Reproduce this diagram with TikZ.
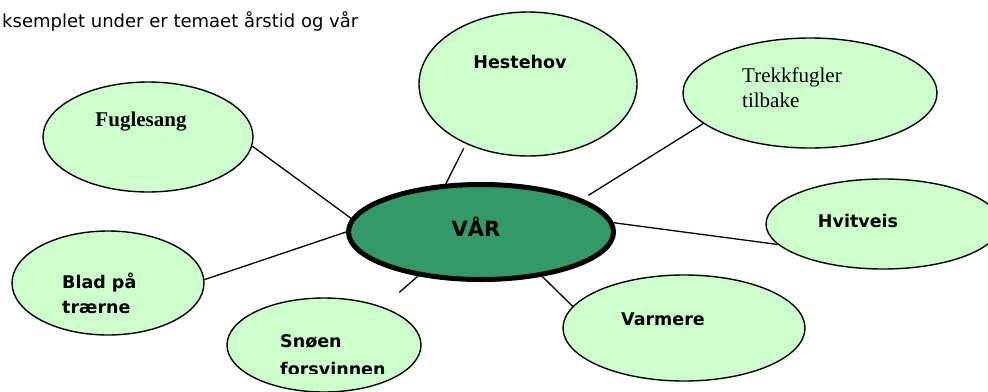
\documentclass[tikz,border=0pt]{standalone}
\usepackage{fontspec}
\setmainfont{Liberation Serif}
\newfontfamily\comicfont{DejaVu Sans}
\usetikzlibrary{shapes.geometric}
\definecolor{leaf}{HTML}{CCFFCC}
\definecolor{core}{HTML}{339966}
\tikzset{
  bubble/.style={ellipse, draw=black, line width=1.4pt, fill=leaf, inner sep=0pt},
  hub/.style={ellipse, draw=black, line width=5pt, fill=core, inner sep=0pt},
  link/.style={draw=black, line width=1.3pt},
  cs/.style={font=\comicfont\bfseries\fontsize{17.5}{23}\selectfont, inner sep=0pt, align=left},
  tn/.style={font=\fontsize{21}{25}\selectfont, inner sep=0pt, align=left},
  tnb/.style={font=\bfseries\fontsize{21}{25}\selectfont, inner sep=0pt},
}
\begin{document}
\begin{tikzpicture}[x=1pt,y=-1pt]
\useasboundingbox (0,0) rectangle (988,391);
\clip (0,0) rectangle (988,391);
% intro text
\node[anchor=base west, inner sep=0pt, font=\comicfont\fontsize{18}{22}\selectfont] (intro) at (2,27) {ksemplet under er temaet årstid og vår};
% bubbles
\node[bubble, minimum width=210pt, minimum height=110pt] (fug) at (148,137) {};
\node[bubble, minimum width=218pt, minimum height=144pt] (hes) at (528,84) {};
\node[bubble, minimum width=254pt, minimum height=110pt] (tre) at (810,93) {};
\node[bubble, minimum width=234pt, minimum height=90pt] (hvi) at (883,224) {};
\node[bubble, minimum width=192pt, minimum height=104pt] (bla) at (108,283) {};
\node[bubble, minimum width=194pt, minimum height=94pt] (sno) at (324,345) {};
\node[bubble, minimum width=242pt, minimum height=106pt] (var) at (684,328) {};
\node[hub, minimum width=265pt, minimum height=95pt] (hub) at (481,232) {};
% labels
\node[cs, font=\comicfont\bfseries\fontsize{21}{25}\selectfont] (tvar) at (476,227) {VÅR};
\node[cs] (thes) at (520,62) {Hestehov};
\node[tn, anchor=north west] (ttre) at (742,68) {Trekkfugler\\tilbake};
\node[tnb] (tfug) at (141,122) {Fuglesang};
\node[cs] (thvi) at (858,221) {Hvitveis};
\node[cs] (tvar2) at (663,319) {Varmere};
\node[cs, anchor=north west, font=\comicfont\bfseries\fontsize{17.5}{25}\selectfont] (tbla) at (62,273) {Blad på\\trærne};
\begin{scope}
  \clip (240,300) rectangle (420,373);
  \node[cs, anchor=north west, font=\comicfont\bfseries\fontsize{17.5}{28}\selectfont] (tsno) at (280,334) {Snøen\\forsvinnen};
\end{scope}
% connectors
\draw[link] (hub.174) -- (fug.-5);
\draw[link] (hub.180) -- (bla.2);
\draw[link, shorten >=5pt] (hub.126) -- (hes.224.6);
\draw[link, shorten <=7pt] (hub.18.6) -- (tre.196.9);
\draw[link] (hub.4) -- (hvi.191.8);
\draw[link] (hub.-36.6) -- (var.169.8);
\draw[link, shorten >=22pt] (hub.215.7) -- (sno.33.5);
\end{tikzpicture}
\end{document}
